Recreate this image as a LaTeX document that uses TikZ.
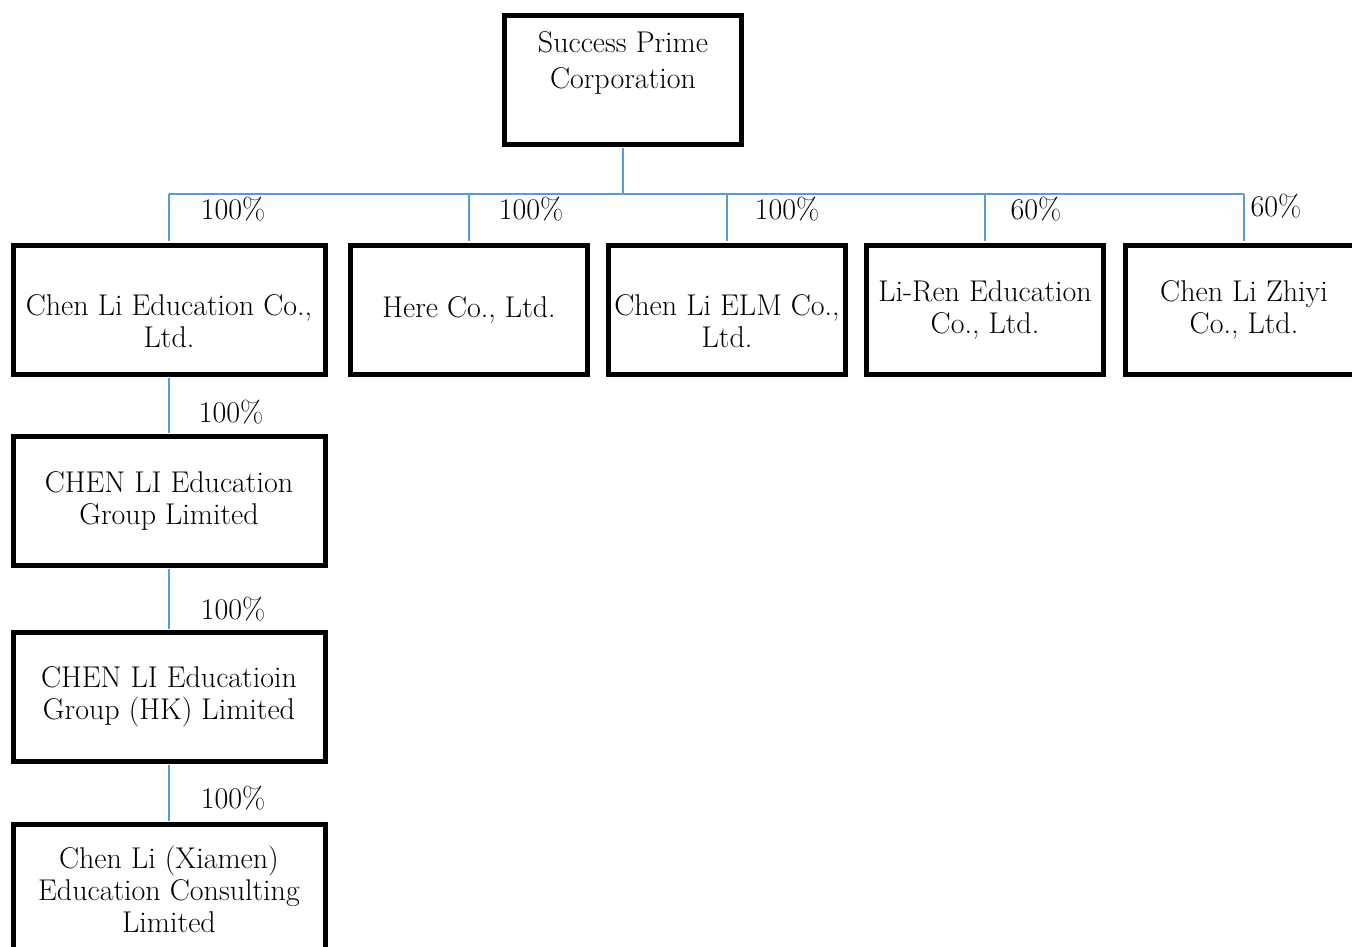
\documentclass[tikz,border=0pt]{standalone}
\definecolor{linkblue}{RGB}{91,155,213}
\tikzset{
  company/.style={draw=black, line width=3.75pt, minimum width=177.75pt, minimum height=96.75pt,
    align=center, inner sep=2pt, font=\fontsize{22.5}{24}\selectfont},
  widebox/.style={minimum width=234pt},
  link/.style={draw=linkblue, line width=1.5pt},
  pct/.style={inner sep=0pt, font=\fontsize{22.5}{24}\selectfont},
}
\newcommand{\lowstrut}{\rule{0pt}{33pt}}
\newcommand{\topstrut}{\rule[-30pt]{0pt}{30pt}}
\begin{document}
\begin{tikzpicture}[x=0.75pt, y=-0.75pt]
	\useasboundingbox (0,0) rectangle (1352,946);
	
	%%%%% BOXES %%%%%
	\node[company, font=\fontsize{22.5}{27}\selectfont] (top) at (623, 80) {Success Prime\\Corporation\topstrut};
	
	\node[company, widebox] (chenli) at (169, 309.5) {\lowstrut Chen Li Education Co.,\\Ltd.};
	\node[company] (here) at (469, 309.5) {Here Co., Ltd.};
	\node[company] (elm) at (727, 309.5) {\lowstrut Chen Li ELM Co.,\\Ltd.};
	\node[company] (liren) at (985, 309.5) {Li-Ren Education\\Co., Ltd.};
	\node[company] (zhiyi) at (1244, 309.5) {Chen Li Zhiyi\\Co., Ltd.};
	
	\node[company, widebox] (group) at (169, 501) {CHEN LI Education\\Group Limited};
	\node[company, widebox] (grouphk) at (169, 697) {CHEN LI Educatioin\\Group (HK) Limited};
	\node[company, widebox] (xiamen) at (169, 889) {Chen Li (Xiamen)\\Education Consulting\\Limited};
	
	%%%%% LINKS %%%%%
	\coordinate (bus) at (623, 194);
	\draw[link, shorten <=1pt] (top.south) -- (bus);
	\draw[link] (bus -| chenli) -- (bus -| zhiyi);
	\foreach \n in {chenli, here, elm, liren, zhiyi}
		\draw[link, shorten >=1pt] (bus -| \n) -- (\n.north);
	
	\draw[link, shorten <=1pt, shorten >=1pt] (chenli) -- (group);
	\draw[link, shorten <=1pt, shorten >=1pt] (group) -- (grouphk);
	\draw[link, shorten <=1pt, shorten >=1pt] (grouphk) -- (xiamen);
	
	%%%%% SHARES %%%%%
	\node[pct] (pchenli) at (233, 209.5) {100\%};
	\node[pct] (phere) at (531, 209) {100\%};
	\node[pct] (pelm) at (787, 209) {100\%};
	\node[pct] (pliren) at (1036, 209) {60\%};
	\node[pct] (pzhiyi) at (1276, 206) {60\%};
	
	\node[pct] (pgroup) at (231, 412) {100\%};
	\node[pct] (pgrouphk) at (233, 609) {100\%};
	\node[pct] (pxiamen) at (233, 798) {100\%};
\end{tikzpicture}
\end{document}
